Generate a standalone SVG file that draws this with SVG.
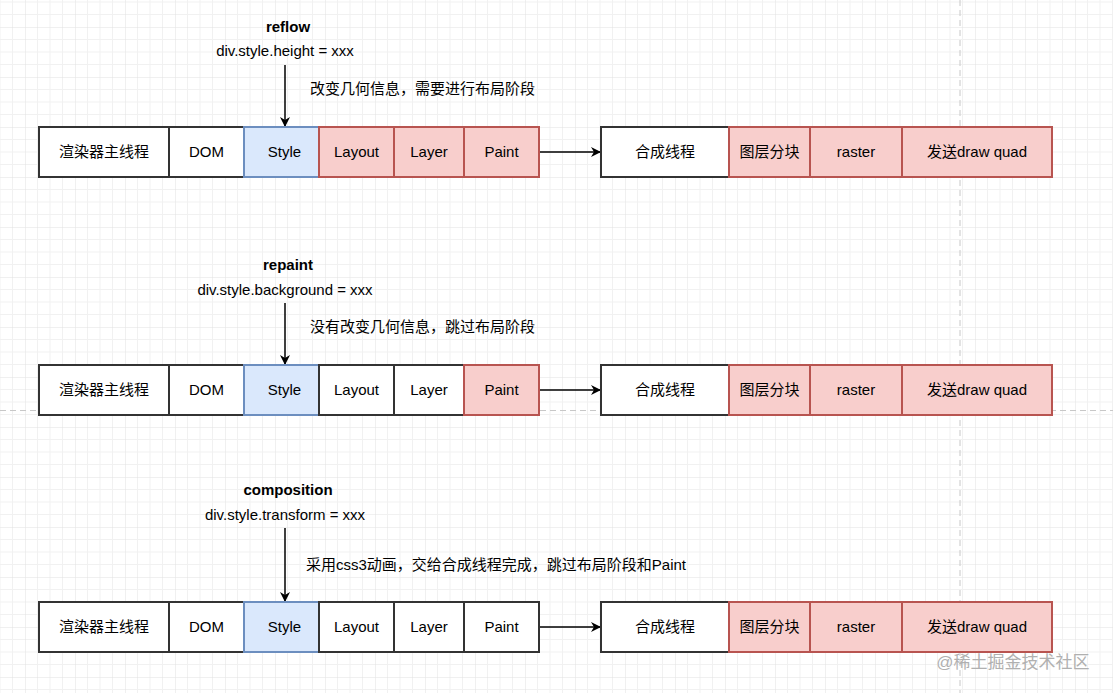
<svg xmlns="http://www.w3.org/2000/svg" width="1113" height="693" viewBox="0 0 1113 693">
<defs>
<pattern id="grid" patternUnits="userSpaceOnUse" x="25" y="27" width="50" height="50">
<path d="M12.5 0V50M25 0V50M37.5 0V50M0 12.5H50M0 25H50M0 37.5H50" stroke="#f1f1f1" stroke-width="1" fill="none"/>
<path d="M0 0V50M0 0H50" stroke="#e2e2e2" stroke-width="1" fill="none"/>
</pattern>
<marker id="arr" viewBox="0 0 10 10" refX="9" refY="5" markerWidth="10" markerHeight="10" markerUnits="userSpaceOnUse" orient="auto">
<path d="M0 0L10 5L0 10L3 5Z" fill="#000"/>
</marker>
<style>
text{font-family:"Liberation Sans","Noto Sans CJK SC",sans-serif;font-size:15px;fill:#000}
.c{text-anchor:middle;dominant-baseline:central}
.b{font-weight:bold}
.w{fill:#fff;stroke:#333;stroke-width:2}
.blue{fill:#dae8fc;stroke:#6c8ebf;stroke-width:2}
.red{fill:#f8cecc;stroke:#b85450;stroke-width:2}
.ln{stroke:#000;stroke-width:1.5;fill:none}
.lbl{dominant-baseline:central}
</style>
</defs>
<rect width="1113" height="693" fill="#fff"/>
<rect width="1113" height="693" fill="url(#grid)"/>
<path d="M960 0V693" stroke="#c8c8c8" stroke-width="1" stroke-dasharray="6 4"/>
<path d="M0 410.5H1113" stroke="#c8c8c8" stroke-width="1" stroke-dasharray="6 4"/>

<g id="connectors">
<path class="ln" d="M285 65V126" marker-end="url(#arr)"/>
<path class="ln" d="M539 152H600" marker-end="url(#arr)"/>
<path class="ln" d="M285 303V364" marker-end="url(#arr)"/>
<path class="ln" d="M539 390H600" marker-end="url(#arr)"/>
<path class="ln" d="M285 528V601" marker-end="url(#arr)"/>
<path class="ln" d="M539 627H600" marker-end="url(#arr)"/>
</g>

<g id="labels">
<text class="c b" x="288" y="26">reflow</text>
<text class="c" x="285" y="50">div.style.height = xxx</text>
<text class="lbl" x="310" y="88">改变几何信息，需要进行布局阶段</text>
<text class="c b" x="288" y="264">repaint</text>
<text class="c" x="285" y="289">div.style.background = xxx</text>
<text class="lbl" x="310" y="326">没有改变几何信息，跳过布局阶段</text>
<text class="c b" x="288" y="489">composition</text>
<text class="c" x="285" y="514">div.style.transform = xxx</text>
<text class="lbl" x="306" y="564">采用css3动画，交给合成线程完成，跳过布局阶段和Paint</text>
</g>

<g id="row1">
<g id="r1-main"><rect class="w" x="39" y="127" width="130" height="50"/><text class="c" x="104" y="151">渲染器主线程</text></g>
<g id="r1-dom"><rect class="w" x="169" y="127" width="75" height="50"/><text class="c" x="206.5" y="151">DOM</text></g>
<g id="r1-style"><rect class="blue" x="244" y="127" width="75" height="50"/><text class="c" x="284.5" y="151">Style</text></g>
<g id="r1-layout"><rect class="red" x="319" y="127" width="75" height="50"/><text class="c" x="356.5" y="151">Layout</text></g>
<g id="r1-layer"><rect class="red" x="394" y="127" width="70" height="50"/><text class="c" x="429" y="151">Layer</text></g>
<g id="r1-paint"><rect class="red" x="464" y="127" width="75" height="50"/><text class="c" x="501.5" y="151">Paint</text></g>
<g id="r1-comp"><rect class="w" x="601" y="127" width="128" height="50"/><text class="c" x="665" y="151">合成线程</text></g>
<g id="r1-tile"><rect class="red" x="729" y="127" width="81" height="50"/><text class="c" x="769.5" y="151">图层分块</text></g>
<g id="r1-raster"><rect class="red" x="810" y="127" width="92" height="50"/><text class="c" x="856" y="151">raster</text></g>
<g id="r1-quad"><rect class="red" x="902" y="127" width="150" height="50"/><text class="c" x="977" y="151">发送draw quad</text></g>
</g>

<g id="row2">
<g id="r2-main"><rect class="w" x="39" y="365" width="130" height="50"/><text class="c" x="104" y="389">渲染器主线程</text></g>
<g id="r2-dom"><rect class="w" x="169" y="365" width="75" height="50"/><text class="c" x="206.5" y="389">DOM</text></g>
<g id="r2-style"><rect class="blue" x="244" y="365" width="75" height="50"/><text class="c" x="284.5" y="389">Style</text></g>
<g id="r2-layout"><rect class="w" x="319" y="365" width="75" height="50"/><text class="c" x="356.5" y="389">Layout</text></g>
<g id="r2-layer"><rect class="w" x="394" y="365" width="70" height="50"/><text class="c" x="429" y="389">Layer</text></g>
<g id="r2-paint"><rect class="red" x="464" y="365" width="75" height="50"/><text class="c" x="501.5" y="389">Paint</text></g>
<g id="r2-comp"><rect class="w" x="601" y="365" width="128" height="50"/><text class="c" x="665" y="389">合成线程</text></g>
<g id="r2-tile"><rect class="red" x="729" y="365" width="81" height="50"/><text class="c" x="769.5" y="389">图层分块</text></g>
<g id="r2-raster"><rect class="red" x="810" y="365" width="92" height="50"/><text class="c" x="856" y="389">raster</text></g>
<g id="r2-quad"><rect class="red" x="902" y="365" width="150" height="50"/><text class="c" x="977" y="389">发送draw quad</text></g>
</g>

<g id="row3">
<g id="r3-main"><rect class="w" x="39" y="602" width="130" height="50"/><text class="c" x="104" y="626">渲染器主线程</text></g>
<g id="r3-dom"><rect class="w" x="169" y="602" width="75" height="50"/><text class="c" x="206.5" y="626">DOM</text></g>
<g id="r3-style"><rect class="blue" x="244" y="602" width="75" height="50"/><text class="c" x="284.5" y="626">Style</text></g>
<g id="r3-layout"><rect class="w" x="319" y="602" width="75" height="50"/><text class="c" x="356.5" y="626">Layout</text></g>
<g id="r3-layer"><rect class="w" x="394" y="602" width="70" height="50"/><text class="c" x="429" y="626">Layer</text></g>
<g id="r3-paint"><rect class="w" x="464" y="602" width="75" height="50"/><text class="c" x="501.5" y="626">Paint</text></g>
<g id="r3-comp"><rect class="w" x="601" y="602" width="128" height="50"/><text class="c" x="665" y="626">合成线程</text></g>
<g id="r3-tile"><rect class="red" x="729" y="602" width="81" height="50"/><text class="c" x="769.5" y="626">图层分块</text></g>
<g id="r3-raster"><rect class="red" x="810" y="602" width="92" height="50"/><text class="c" x="856" y="626">raster</text></g>
<g id="r3-quad"><rect class="red" x="902" y="602" width="150" height="50"/><text class="c" x="977" y="626">发送draw quad</text></g>
</g>

<text x="1013" y="662" style="font-size:17px;fill:#b0b0b0;text-anchor:middle;dominant-baseline:central">@稀土掘金技术社区</text>
</svg>
